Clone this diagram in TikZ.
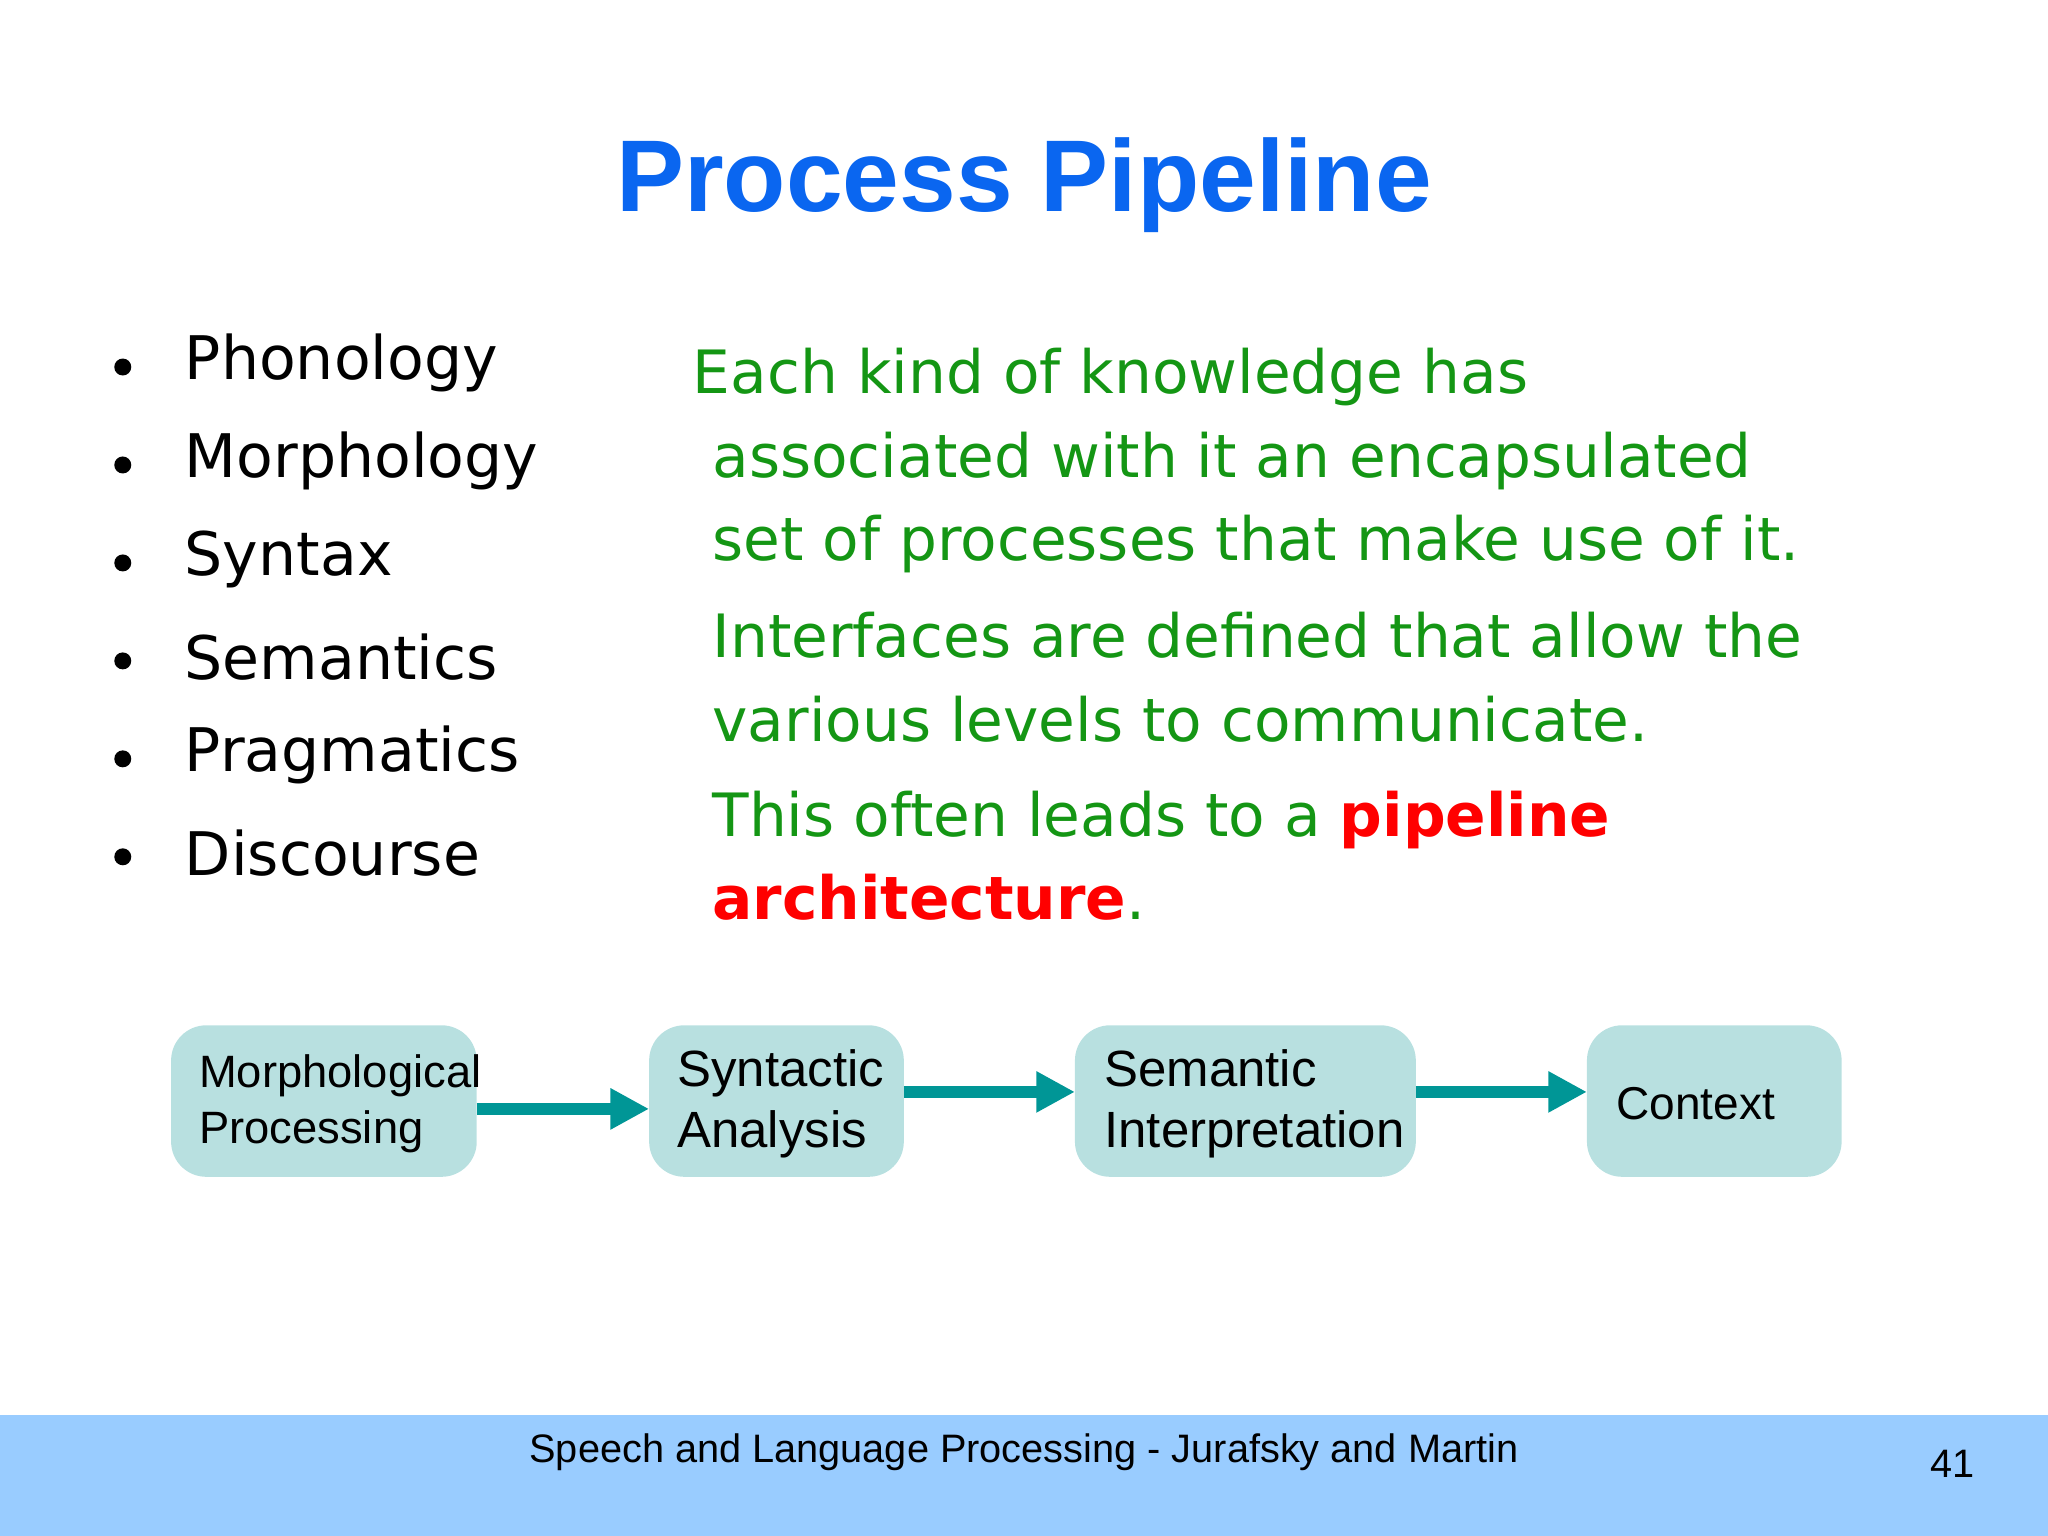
\documentclass[tikz,border=0pt]{standalone}
\usepackage{fontspec}
\setmainfont{DejaVu Sans}
\newfontfamily\arial{Liberation Sans}
\usetikzlibrary{arrows.meta}
\definecolor{ttl}{RGB}{10,102,240}
\definecolor{grn}{RGB}{20,150,20}
\definecolor{boxc}{RGB}{184,224,224}
\definecolor{arr}{RGB}{0,150,150}
\definecolor{band}{RGB}{153,204,255}
\tikzset{stagebox/.style={fill=boxc,rounded corners=10pt},
stagetxt/.style={anchor=west,align=left,inner sep=0pt},
pipe/.style={arr,line width=3.5pt,-{Triangle[length=11pt,width=11pt]}},
bul/.style={anchor=west,font=\fontsize{17.1}{20}\selectfont},
gtxt/.style={anchor=north west,font=\fontsize{17}{23.8}\selectfont,text=grn,align=left,inner sep=0pt}}
\begin{document}
\begin{tikzpicture}[x=0.01306cm,y=-0.01306cm]
\useasboundingbox (0,0) rectangle (1568,1176);
\fill[band] (0,1083) rectangle (1568,1176);
\node (title) at (784,142) {\arial\bfseries\fontsize{29}{34}\selectfont\color{ttl}Process Pipeline};
\foreach \t [count=\i] in {Phonology,Morphology,Syntax,Semantics,Pragmatics,Discourse}{
 \node[bul] (b\i) at (132,{278+75*(\i-1)}) {\t};
 \fill (94,{281+75*(\i-1)}) circle (6.5);
}
\node[gtxt] (g1) at (530,266) {Each kind of knowledge has};
\node[gtxt] (g2) at (545,330) {associated with it an encapsulated\\set of processes that make use of it.};
\node[gtxt] (g3) at (545,468) {Interfaces are defined that allow the\\various levels to communicate.};
\node[gtxt] (g4) at (545,605) {This often leads to a \textcolor{red}{\bfseries pipeline}\\\textcolor{red}{\bfseries architecture}.};
\path[stagebox] (131,785) rectangle (365,901);
\path[stagebox] (497,785) rectangle (692,901);
\path[stagebox] (823,785) rectangle (1084,901);
\path[stagebox] (1215,785) rectangle (1410,901);
\node[stagetxt,font=\arial\fontsize{12.9}{16}\selectfont] (m) at (152,845) {Morphological\\Processing};
\node[stagetxt,font=\arial\fontsize{14.5}{17.5}\selectfont] (sy) at (518,845) {Syntactic\\Analysis};
\node[stagetxt,font=\arial\fontsize{14.5}{17.5}\selectfont] (se) at (845,845) {Semantic\\Interpretation};
\node[stagetxt,font=\arial\fontsize{13.1}{16}\selectfont] (cx) at (1237,845) {Context};
\coordinate (a1) at (365,849); \coordinate (a2) at (497,849);
\coordinate (a3) at (692,836); \coordinate (a4) at (823,836);
\coordinate (a5) at (1084,836); \coordinate (a6) at (1215,836);
\draw[pipe] (a1) -- (a2);
\draw[pipe] (a3) -- (a4);
\draw[pipe] (a5) -- (a6);
\node (foot) at (784,1112) {\arial\fontsize{11.3}{13}\selectfont Speech and Language Processing - Jurafsky and Martin};
\node (num) at (1495,1121) {\arial\fontsize{11.3}{13}\selectfont 41};
\end{tikzpicture}
\end{document}
